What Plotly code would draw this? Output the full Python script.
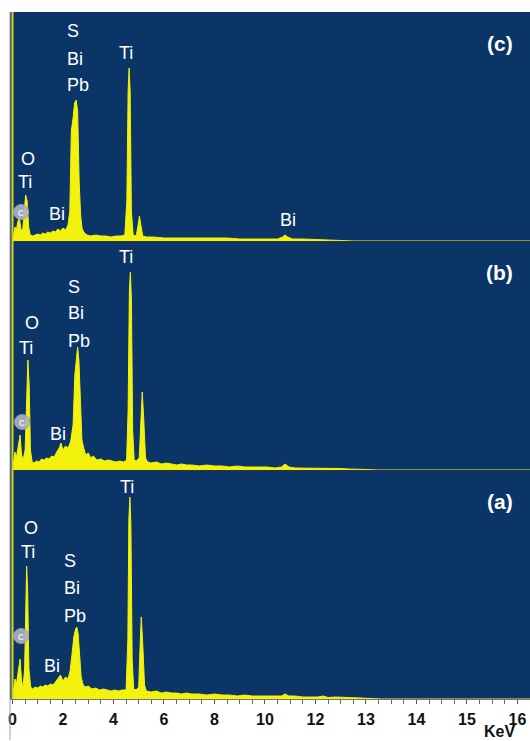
import plotly.graph_objects as go
from plotly.subplots import make_subplots

# ---------------- data ----------------
# Panel (c) spectrum: energy (keV) / counts (arbitrary, ~pixel heights)
energy_c = [0.0, 0.05, 0.1, 0.15, 0.2, 0.27, 0.33, 0.4, 0.47, 0.52, 0.58, 0.64, 0.7, 0.8, 0.9,
            1.0, 1.1, 1.2, 1.3, 1.4, 1.5, 1.6, 1.7, 1.8, 1.9, 2.0, 2.1, 2.2, 2.27, 2.33, 2.4,
            2.46, 2.52, 2.58, 2.64, 2.7, 2.76, 2.85, 2.95, 3.1, 3.3, 3.5, 3.7, 3.9, 4.1, 4.3,
            4.45, 4.53, 4.58, 4.62, 4.66, 4.71, 4.78, 4.9, 4.97, 5.03, 5.09, 5.16, 5.3, 5.6,
            6.0, 6.5, 7.0, 7.5, 8.0, 8.5, 9.0, 9.5, 10.0, 10.5, 10.7, 10.8, 10.9, 11.1, 11.5,
            12.0, 12.5, 13.0, 13.5, 20.6]
counts_c = [0, 8, 14, 10, 18, 24, 12, 10, 30, 46, 40, 14, 6, 5, 6,
            7, 6, 8, 7, 9, 8, 10, 9, 12, 10, 13, 11, 16, 30, 110, 123,
            138, 141, 130, 60, 25, 12, 8, 6, 5, 6, 5, 5, 4, 5, 5,
            6, 40, 150, 173, 150, 30, 6, 5, 15, 25, 15, 5, 4, 4,
            3, 3, 3, 3, 3, 3, 2, 2, 2, 2, 4, 6, 4, 2, 2,
            1.5, 1, 0.5, 0, 0]

# Panel (b) spectrum
energy_b = [0.0, 0.05, 0.1, 0.15, 0.22, 0.3, 0.36, 0.42, 0.5, 0.56, 0.61, 0.66, 0.71, 0.78, 0.85,
            0.95, 1.05, 1.15, 1.25, 1.35, 1.45, 1.55, 1.65, 1.75, 1.85, 1.92, 2.0, 2.1, 2.2, 2.3,
            2.4, 2.47, 2.53, 2.58, 2.63, 2.69, 2.75, 2.82, 2.9, 3.0, 3.1, 3.2, 3.35, 3.5, 3.65,
            3.8, 3.95, 4.1, 4.25, 4.4, 4.52, 4.58, 4.63, 4.67, 4.71, 4.76, 4.82, 4.9, 5.02, 5.08,
            5.14, 5.2, 5.27, 5.35, 5.5, 5.7, 5.9, 6.1, 6.3, 6.5, 6.7, 6.9, 7.1, 7.4, 7.7, 8.0,
            8.3, 8.6, 8.9, 9.2, 9.5, 9.8, 10.1, 10.4, 10.65, 10.8, 10.95, 11.2, 11.5, 11.8, 12.1,
            12.4, 12.7, 13.0, 13.3, 13.6, 14.0, 14.5, 20.6]
counts_b = [0, 10, 18, 12, 22, 35, 15, 10, 20, 80, 110, 85, 20, 8, 7,
            9, 8, 11, 10, 12, 11, 14, 13, 18, 22, 27, 20, 24, 22, 28,
            45, 95, 115, 123, 110, 60, 30, 22, 15, 17, 12, 14, 10, 11, 9,
            10, 9, 8, 9, 8, 10, 60, 180, 198, 170, 40, 10, 9, 12, 50,
            78, 50, 12, 8, 7, 8, 6, 7, 6, 5, 6, 5, 5, 4, 5, 4,
            4, 3, 4, 3, 3, 3, 3, 2, 3, 6, 3, 2, 2, 2, 2,
            1.5, 2, 1.5, 1, 1, 0.5, 0, 0]

# Panel (a) spectrum
energy_a = [0.0, 0.05, 0.1, 0.15, 0.22, 0.3, 0.36, 0.42, 0.48, 0.52, 0.56, 0.6, 0.65, 0.72, 0.8,
            0.9, 1.0, 1.1, 1.2, 1.3, 1.4, 1.5, 1.6, 1.7, 1.8, 1.9, 2.0, 2.1, 2.2, 2.28,
            2.36, 2.43, 2.5, 2.55, 2.6, 2.66, 2.72, 2.8, 2.9, 3.0, 3.15, 3.3, 3.45, 3.6, 3.75,
            3.9, 4.05, 4.2, 4.35, 4.5, 4.57, 4.61, 4.65, 4.69, 4.74, 4.8, 4.9, 5.0, 5.05, 5.1,
            5.16, 5.23, 5.3, 5.5, 5.7, 5.9, 6.1, 6.3, 6.5, 6.7, 6.9, 7.1, 7.4, 7.7, 8.0,
            8.3, 8.6, 8.9, 9.2, 9.5, 9.8, 10.1, 10.4, 10.65, 10.8, 10.95, 11.2, 11.5, 11.8, 12.1,
            12.3, 12.5, 12.8, 13.1, 13.4, 13.8, 14.2, 14.6, 20.6]
counts_a = [0, 12, 20, 14, 26, 40, 18, 12, 30, 100, 133, 110, 30, 12, 10,
            12, 11, 13, 12, 14, 13, 15, 14, 17, 21, 24, 18, 22, 20, 28,
            45, 62, 70, 72, 65, 40, 22, 14, 12, 13, 10, 11, 9, 10, 9,
            8, 9, 8, 9, 9, 60, 180, 202, 175, 40, 10, 9, 12, 50, 82,
            55, 14, 8, 7, 8, 6, 7, 6, 6, 5, 6, 5, 5, 4, 5,
            4, 4, 3, 4, 3, 3, 3, 3, 3, 5, 3, 3, 2, 2, 2,
            3, 1.5, 2, 1.5, 1, 1, 0.5, 0, 0]

# x tick labels (as printed on the original axis)
tick_values = [0, 2, 4, 6, 8, 10, 12, 14, 16, 18, 20]
tick_labels = ['0', '2', '4', '6', '8', '10', '12', '13', '14', '15', '16']

# peak labels per panel: (text, keV, height, xanchor)
labels_c = [('S', 2.08, 210, 'left'), ('Bi', 2.08, 182, 'left'), ('Pb', 2.08, 156, 'left'),
            ('Ti', 4.5, 188, 'center'), ('O', 0.61, 82, 'center'), ('Ti', 0.5, 59, 'center'),
            ('Bi', 1.76, 27, 'center'), ('Bi', 10.9, 21, 'center')]
labels_b = [('Ti', 4.5, 213, 'center'), ('S', 2.12, 183, 'left'), ('Bi', 2.12, 157, 'left'),
            ('Pb', 2.12, 129, 'left'), ('O', 0.77, 147, 'center'), ('Ti', 0.53, 122, 'center'),
            ('Bi', 1.8, 36, 'center')]
labels_a = [('Ti', 4.53, 212, 'center'), ('O', 0.73, 171, 'center'), ('Ti', 0.61, 147, 'center'),
            ('S', 1.96, 138, 'left'), ('Bi', 1.96, 111, 'left'), ('Pb', 1.96, 83, 'left'),
            ('Bi', 1.56, 33, 'center')]
carbon_marks = [(0.34, 29), (0.38, 48), (0.34, 63)]   # grey "c" badge per panel (c, b, a)
panel_names = ['(c)', '(b)', '(a)']

# ---------------- figure ----------------
BLUE = '#0a3566'
YELLOW = '#f2f20c'
FONT = 'Liberation Sans, Arial, Helvetica, sans-serif'

fig = make_subplots(rows=3, cols=1, shared_xaxes=True, vertical_spacing=0)

spectra = [(energy_c, counts_c), (energy_b, counts_b), (energy_a, counts_a)]
for i, (e, c) in enumerate(spectra):
    fig.add_trace(go.Scatter(x=e, y=c, mode='lines', fill='tozeroy',
                             line=dict(color=YELLOW, width=1), fillcolor=YELLOW,
                             hoverinfo='skip'), row=i + 1, col=1)

annotations = []
shapes = []
all_labels = [labels_c, labels_b, labels_a]
for i in range(3):
    sfx = '' if i == 0 else str(i + 1)
    xr, yr = 'x' + sfx, 'y' + sfx
    for (t, xv, yv, xa) in all_labels[i]:
        annotations.append(dict(text=t, x=xv, y=yv, xref=xr, yref=yr, xanchor=xa,
                                yanchor='middle', showarrow=False,
                                font=dict(family=FONT, size=18, color='white')))
    annotations.append(dict(text='<b>%s</b>' % panel_names[i], x=19.3, y=198, xref=xr, yref=yr,
                            xanchor='center', yanchor='middle', showarrow=False,
                            font=dict(family=FONT, size=21, color='white')))
    cx, cy = carbon_marks[i]
    shapes.append(dict(type='circle', xref=xr, yref=yr, x0=cx - 0.3, x1=cx + 0.3,
                       y0=cy - 7.5, y1=cy + 7.5, fillcolor='rgba(175,180,195,0.9)',
                       line=dict(color='rgba(150,155,170,0.9)', width=1), layer='above'))
    annotations.append(dict(text='c', x=cx, y=cy, xref=xr, yref=yr, showarrow=False,
                            font=dict(family=FONT, size=11, color='white')))

# yellow vertical y-axis line at 0 keV
shapes.append(dict(type='line', xref='x', yref='paper', x0=0, x1=0, y0=0, y1=1,
                   line=dict(color='#d6d61a', width=2), layer='above'))
# faint grey frame line on the left edge
shapes.append(dict(type='line', xref='paper', yref='paper', x0=0, x1=0, y0=-0.06, y1=1,
                   line=dict(color='#9aa0aa', width=1)))

annotations.append(dict(text='<b>KeV</b>', x=(499 - 10) / 520, y=(699 - 731) / 687,
                        xref='paper', yref='paper', xanchor='center', yanchor='middle',
                        showarrow=False, font=dict(family=FONT, size=16, color='#111')))

fig.update_layout(width=530, height=741, margin=dict(l=10, r=0, t=12, b=42),
                  paper_bgcolor='white', plot_bgcolor=BLUE, showlegend=False,
                  annotations=annotations, shapes=shapes)

for i in range(1, 4):
    fig.update_yaxes(range=[0, 229], showticklabels=False, showgrid=False, zeroline=False,
                     ticks='', showline=False, row=i, col=1)
    fig.update_xaxes(range=[-0.099, 20.5], showgrid=False, zeroline=False,
                     showline=True, linecolor='#24324a', linewidth=1, row=i, col=1)

fig.update_xaxes(tickmode='array', tickvals=tick_values,
                 ticktext=['<b>%s</b>' % t for t in tick_labels],
                 ticks='outside', ticklen=4, tickcolor='#555', tickwidth=1,
                 tickfont=dict(family=FONT, size=16, color='#111'),
                 ticklabelstandoff=2, linecolor='#777',
                 minor=dict(dtick=0.5, ticks='outside', ticklen=4, tickcolor='#666'),
                 row=3, col=1)

fig.write_html('out.html', config={'displayModeBar': False},
               post_script="document.body.style.margin='0';document.body.style.padding='0';"
                           "document.body.style.overflow='hidden';")
